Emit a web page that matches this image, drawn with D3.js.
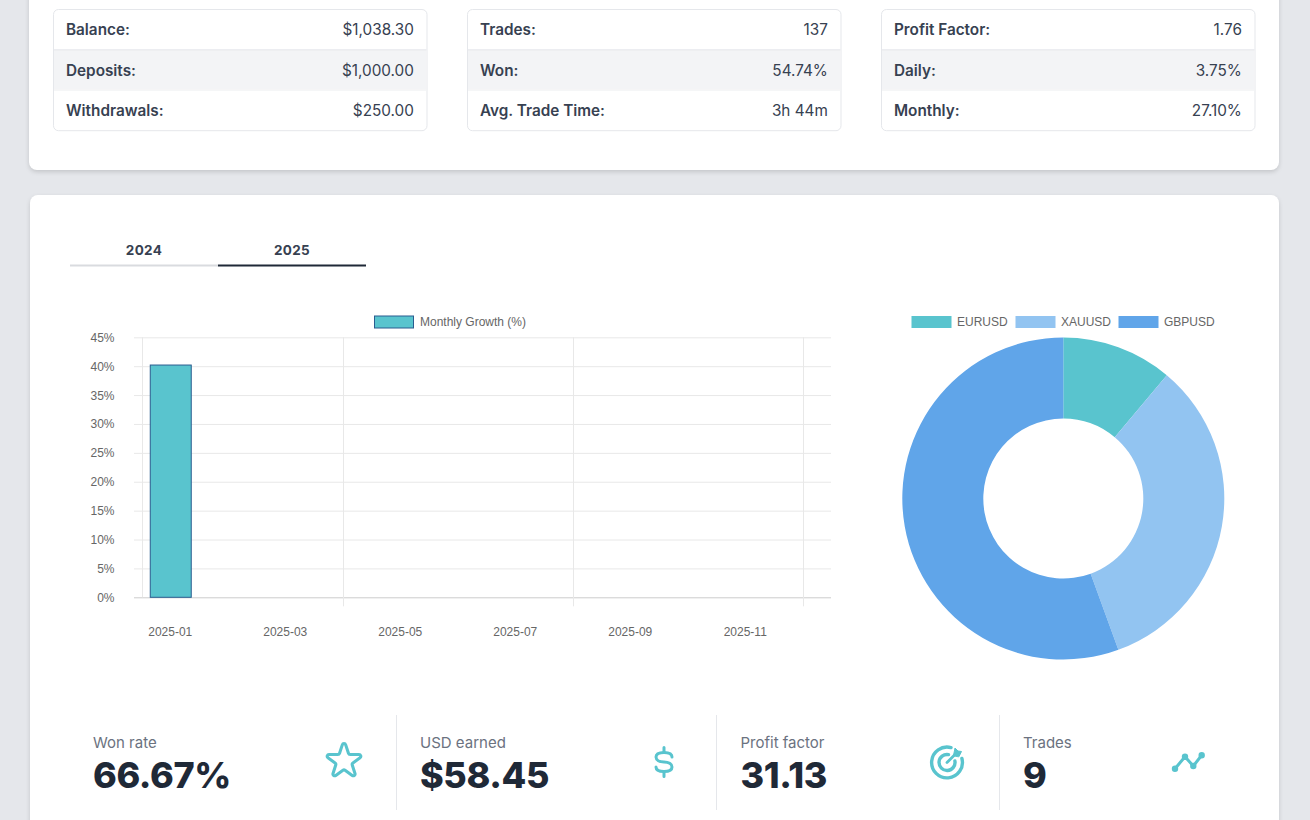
<!DOCTYPE html>
<html>
<head>
<meta charset="utf-8">
<title>Account stats</title>
<script src="https://cdn.jsdelivr.net/npm/d3@7"></script>
<style>
  html, body { margin: 0; padding: 0; background: #e5e7eb; overflow: hidden; }
  svg { display: block; }
  text { font-family: Inter, "Noto Sans", sans-serif; }
  .chart-text { font-family: "Liberation Sans", Arial, sans-serif; font-size: 12px; fill: #666; }
  .card { filter: drop-shadow(0 2px 2px rgba(0,0,0,.14)); }
</style>
</head>
<body>
<div id="page"></div>
<script>
// account tables
var tableLabels = [
    ["Balance:", "Deposits:", "Withdrawals:"],
    ["Trades:", "Won:", "Avg. Trade Time:"],
    ["Profit Factor:", "Daily:", "Monthly:"]
];
var tableValues = [
    ["$1,038.30", "$1,000.00", "$250.00"],
    ["137", "54.74%", "3h 44m"],
    ["1.76", "3.75%", "27.10%"]
];

// year tabs
var years = ["2024", "2025"];
var activeYear = "2025";

// bar chart
var months = ["2025-01", "2025-02", "2025-03", "2025-04", "2025-05", "2025-06",
              "2025-07", "2025-08", "2025-09", "2025-10", "2025-11", "2025-12"];
var monthlyGrowth = [40.2];
var monthLabels = ["2025-01", "2025-03", "2025-05", "2025-07", "2025-09", "2025-11"];
var growthTicks = [0, 5, 10, 15, 20, 25, 30, 35, 40, 45];
var monthGridLines = [0, 3.5, 7.5, 11.5];
var barLegend = "Monthly Growth (%)";

// donut chart
var pairs = ["EURUSD", "XAUUSD", "GBPUSD"];
var pairTrades = [1, 3, 5];
var pairColors = ["#59c4ce", "#92c4f1", "#60a5e9"];

// bottom stats
var statLabels = ["Won rate", "USD earned", "Profit factor", "Trades"];
var statValues = ["66.67%", "$58.45", "31.13", "9"];

var teal = "#59c4ce";
var width = 1310, height = 820;

var svg = d3.select("#page").append("svg")
    .attr("width", width)
    .attr("height", height);

// the two white cards
svg.append("rect").attr("class", "card")
    .attr("x", 29).attr("y", -20).attr("width", 1250).attr("height", 190)
    .attr("rx", 8).attr("fill", "#fff");
svg.append("rect").attr("class", "card")
    .attr("x", 30).attr("y", 195).attr("width", 1249).attr("height", 660)
    .attr("rx", 8).attr("fill", "#fff");

// tables
var tableX = [53, 467, 881];
var tableW = 373.5, tableTop = 9, rowH = 40.4;

tableLabels.forEach(function(labels, t) {
    var g = svg.append("g").attr("transform", "translate(" + tableX[t] + "," + tableTop + ")");

    g.append("rect")
        .attr("x", 0.5).attr("y", 0.5)
        .attr("width", tableW).attr("height", rowH * 3)
        .attr("rx", 5)
        .attr("fill", "#fff")
        .attr("stroke", "#e5e7eb");

    g.append("rect")
        .attr("x", 1).attr("y", rowH)
        .attr("width", tableW - 1).attr("height", rowH)
        .attr("fill", "#f3f4f6");

    g.append("line")
        .attr("x1", 1).attr("x2", tableW)
        .attr("y1", rowH + 0.5).attr("y2", rowH + 0.5)
        .attr("stroke", "#e5e7eb");
    g.append("line")
        .attr("x1", 1).attr("x2", tableW)
        .attr("y1", rowH * 2 + 0.5).attr("y2", rowH * 2 + 0.5)
        .attr("stroke", "#f3f4f6");

    labels.forEach(function(label, r) {
        g.append("text")
            .attr("x", 13).attr("y", rowH * r + 26.3)
            .attr("font-size", 15.3).attr("font-weight", 600)
            .attr("fill", "#374151")
            .text(label);
        g.append("text")
            .attr("x", tableW - 12.6).attr("y", rowH * r + 26.3)
            .attr("text-anchor", "end")
            .attr("font-size", 15.3).attr("font-weight", 400)
            .attr("fill", "#374151")
            .text(tableValues[t][r]);
    });
});

// year tabs
var tabScale = d3.scaleBand().domain(years).range([70, 366]);
years.forEach(function(year) {
    svg.append("text")
        .attr("x", tabScale(year) + tabScale.bandwidth() / 2).attr("y", 255)
        .attr("text-anchor", "middle")
        .attr("font-size", 13.5).attr("font-weight", 700)
        .attr("letter-spacing", 0.35)
        .attr("fill", "#374151")
        .text(year);
    svg.append("line")
        .attr("x1", tabScale(year)).attr("x2", tabScale(year) + tabScale.bandwidth())
        .attr("y1", 265.5).attr("y2", 265.5)
        .attr("stroke-width", 2)
        .attr("stroke", year === activeYear ? "#1f2937" : "#d9dbdf");
});

// bar chart scales
var y = d3.scaleLinear().domain([0, 45]).range([597.3, 337.3]);
var x = d3.scaleBand().domain(months).range([141.5, 831.5]).paddingInner(0.287).paddingOuter(0.1435);
var monthPos = d3.scaleLinear().domain([0, 12]).range([141.5, 831.5]);

// horizontal grid + y labels
var yAxis = svg.append("g")
    .attr("transform", "translate(831,0)")
    .call(d3.axisLeft(y).tickValues(growthTicks).tickSize(697).tickPadding(5)
        .tickFormat(function(d) { return d + "%"; }));
yAxis.select(".domain").remove();
yAxis.selectAll("line").attr("stroke", function(d) { return d === 0 ? "#ccc" : "#e8e8e8"; });
yAxis.selectAll("text").attr("class", "chart-text").attr("dy", "0.33em").attr("x", -716.5);

// vertical grid
svg.append("g").selectAll("line")
    .data(monthGridLines)
    .enter()
    .append("line")
    .attr("x1", function(d) { return Math.round(monthPos(d)) + 0.5; })
    .attr("x2", function(d) { return Math.round(monthPos(d)) + 0.5; })
    .attr("y1", y(45))
    .attr("y2", function(d) { return d === 0 ? y(0) : y(0) + 9; })
    .attr("stroke", "#e8e8e8");

// month labels
var xAxis = svg.append("g")
    .attr("transform", "translate(0,597.5)")
    .call(d3.axisBottom(x).tickValues(monthLabels).tickSize(0).tickPadding(30));
xAxis.select(".domain").remove();
xAxis.selectAll("text").attr("class", "chart-text");

// bars
svg.append("g").selectAll("rect")
    .data(monthlyGrowth)
    .enter()
    .append("rect")
    .attr("x", function(d, i) { return x(months[i]) + 0.5; })
    .attr("y", function(d) { return y(d); })
    .attr("width", x.bandwidth())
    .attr("height", function(d) { return y(0) - y(d); })
    .attr("fill", teal)
    .attr("stroke", "#2a5c8f")
    .attr("stroke-width", 1);

// bar legend
svg.append("rect")
    .attr("x", 374.5).attr("y", 316)
    .attr("width", 39).attr("height", 12)
    .attr("fill", teal)
    .attr("stroke", "#2a5c8f");
svg.append("text").attr("class", "chart-text")
    .attr("x", 420).attr("y", 326)
    .text(barLegend);

// donut
var pie = d3.pie().sort(null);
var arc = d3.arc().innerRadius(80).outerRadius(161);

svg.append("g")
    .attr("transform", "translate(1063.3,498.5)")
    .selectAll("path")
    .data(pie(pairTrades))
    .enter()
    .append("path")
    .attr("d", arc)
    .attr("fill", function(d, i) { return pairColors[i]; });

// donut legend
var legendX = d3.scaleOrdinal().domain(pairs).range([911.5, 1015.5, 1118.5]);
pairs.forEach(function(pair, i) {
    svg.append("rect")
        .attr("x", legendX(pair)).attr("y", 316)
        .attr("width", 40).attr("height", 12)
        .attr("fill", pairColors[i]);
    svg.append("text").attr("class", "chart-text")
        .attr("x", legendX(pair) + 45.5).attr("y", 326)
        .text(pair);
});

// bottom stats
var statX = [93, 420, 740.5, 1023];
statLabels.forEach(function(label, i) {
    svg.append("text")
        .attr("x", statX[i]).attr("y", 748)
        .attr("font-size", 15)
        .attr("fill", "#6b7280")
        .text(label);
    svg.append("text")
        .attr("x", statX[i]).attr("y", 788)
        .attr("font-size", 36).attr("font-weight", 800)
        .attr("letter-spacing", -0.4)
        .attr("fill", "#1f2937")
        .text(statValues[i]);
});

// dividers
[396, 716, 999].forEach(function(dx) {
    svg.append("line")
        .attr("x1", dx + 0.5).attr("x2", dx + 0.5)
        .attr("y1", 715).attr("y2", 810)
        .attr("stroke", "#e5e7eb");
});

// icons
function icon(tx, ty, s) {
    return svg.append("g")
        .attr("transform", "translate(" + tx + "," + ty + ") scale(" + s + ")")
        .attr("fill", "none")
        .attr("stroke", teal)
        .attr("stroke-linecap", "round")
        .attr("stroke-linejoin", "round");
}

// star
icon(322.4, 739.6, 1.8).attr("stroke-width", 1.7).append("path")
    .attr("d", "M11.049 2.927c.3-.921 1.603-.921 1.902 0l1.519 4.674a1 1 0 00.95.69h4.915c.969 0 1.371 1.24.588 1.81l-3.976 2.888a1 1 0 00-.364 1.118l1.518 4.674c.3.922-.755 1.688-1.538 1.118l-3.976-2.888a1 1 0 00-1.176 0l-3.976 2.888c-.783.57-1.838-.197-1.538-1.118l1.518-4.674a1 1 0 00-.363-1.118l-3.976-2.888c-.784-.57-.38-1.81.588-1.81h4.914a1 1 0 00.951-.69l1.519-4.674z");

// dollar
var dollar = icon(664, 762, 1).attr("stroke-width", 3);
dollar.append("path").attr("d", "M0 -14.5V-9.5 M0 9.5V14.5");
dollar.append("path").attr("d", "M8 -5 C8 -8 4.5 -9.5 0 -9.5 C-4.5 -9.5 -8 -8 -8 -5 C-8 -2 -4.5 -0 0 0 C4.5 0 8 2 8 5 C8 8 4.5 9.5 0 9.5 C-4.5 9.5 -8 8 -8 5");

// target
var target = icon(947, 762.5, 1).attr("stroke-width", 3.4);
target.append("path").attr("d", "M4 -14.9 A15.4 15.4 0 1 0 14.9 -4");
target.append("path").attr("d", "M1.5 -7.9 A8 8 0 1 0 7.9 -1.5");
target.append("path").attr("d", "M0 0 L9 -9").attr("stroke-width", 2.8);
target.append("path")
    .attr("d", "M6.5 -7 L8 -14.5 L11 -11.5 L14.5 -11 L12 -6 Z")
    .attr("fill", teal).attr("stroke-width", 1);

// trend line
var trend = icon(1165, 745, 1).attr("stroke-width", 3);
trend.append("path").attr("d", "M10 23.7 L20 11.7 L28.3 21 L36.7 10.3");
[[10, 23.7], [20, 11.7], [28.3, 21], [36.7, 10.3]].forEach(function(p) {
    trend.append("circle").attr("cx", p[0]).attr("cy", p[1]).attr("r", 1.7).attr("fill", teal);
});
</script>
</body>
</html>
